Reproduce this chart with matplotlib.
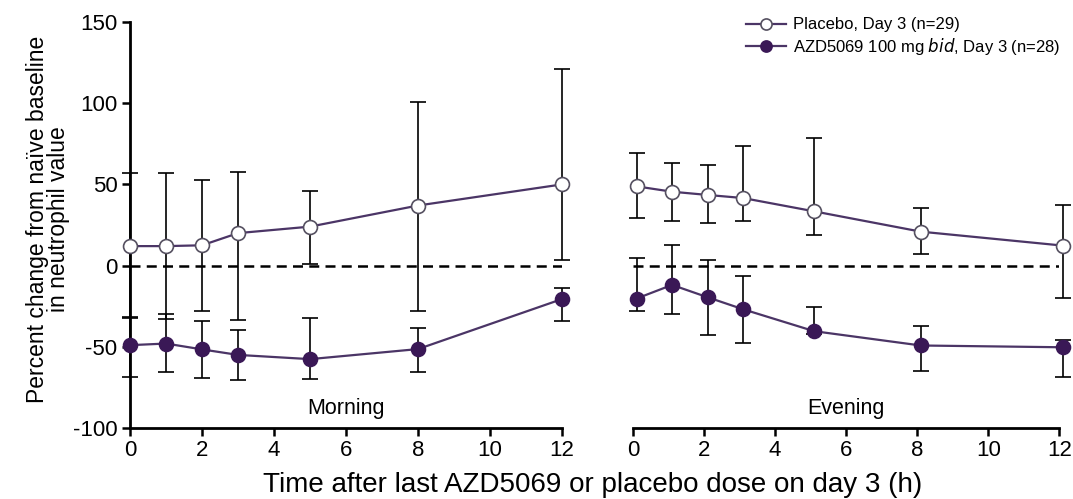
import numpy as np
import matplotlib
matplotlib.use("Agg")
import matplotlib.pyplot as plt

plt.rcParams['font.family'] = ['Liberation Sans', 'DejaVu Sans']
plt.rcParams['axes.unicode_minus'] = False

# hours after dose (evening samples drawn slightly right of the nominal ticks)
morning_hours = [0, 1, 2, 3, 5, 8, 12]
evening_hours = [0.1, 1.1, 2.1, 3.1, 5.1, 8.1, 12.1]

# placebo, day 3 (n=29): mean, lower and upper whiskers
plc_am = [12, 12, 12.5, 20, 24, 37, 50]
plc_am_lo = [-32, -33, -28, -33.7, 1, -28, 3.5]
plc_am_hi = [57, 57, 53, 57.8, 46, 101, 121]
plc_pm = [48.8, 45.5, 43.5, 41.6, 33.4, 20.9, 12.3]
plc_pm_lo = [29.3, 27.7, 26, 27.3, 19, 7.2, -20.1]
plc_pm_hi = [69.3, 63.2, 62.2, 73.8, 78.6, 35.5, 37.5]

# AZD5069 100 mg bid, day 3 (n=28)
azd_am = [-49, -48, -51.6, -55, -57.6, -51.4, -20.6]
azd_am_lo = [-68.4, -65.3, -69.4, -70.4, -69.8, -65.3, -34.3]
azd_am_hi = [-31.6, -29.6, -34, -39.4, -32, -38.2, -13.9]
azd_pm = [-20.3, -11.9, -19.5, -26.9, -40.4, -49.2, -50.3]
azd_pm_lo = [-28.1, -29.7, -42.5, -47.6, -42, -64.6, -68.7]
azd_pm_hi = [4.5, 12.5, 3.5, -6.2, -25.6, -36.9, -45.7]

line_col = '#4b3566'
azd_col = '#3a1856'

fig = plt.figure(figsize=(10.73, 4.99), dpi=100)
ax_am = fig.add_axes([0.1212, 0.1423, 0.4026, 0.8136])
ax_pm = fig.add_axes([0.5899, 0.1423, 0.3975, 0.8136])


def draw(ax, x, mean, lo, hi, filled, label):
    mean = np.array(mean)
    err = [mean - np.array(lo), np.array(hi) - mean]
    ax.errorbar(x, mean, yerr=err, fmt='none', ecolor='black', elinewidth=1.2,
                capsize=6, capthick=1.2, clip_on=False, zorder=2)
    ax.plot(x, mean, color=line_col, lw=1.6, marker='o', ms=10,
            mfc=azd_col if filled else 'white',
            mec=azd_col if filled else '#555060', mew=1.2,
            clip_on=False, zorder=3, label=label)


for ax, hours, p, plo, phi, a, alo, ahi, name in [
        (ax_am, morning_hours, plc_am, plc_am_lo, plc_am_hi,
         azd_am, azd_am_lo, azd_am_hi, 'Morning'),
        (ax_pm, evening_hours, plc_pm, plc_pm_lo, plc_pm_hi,
         azd_pm, azd_pm_lo, azd_pm_hi, 'Evening')]:
    ax.axhline(0, color='black', lw=1.8, ls=(0, (4, 2.5)), zorder=1)
    draw(ax, hours, p, plo, phi, False, 'Placebo, Day 3 (n=29)')
    draw(ax, hours, a, alo, ahi, True, r'AZD5069 100 mg $\it{bid}$, Day 3 (n=28)')
    ax.set_xlim(0, 12)
    ax.set_ylim(-100, 150)
    ax.set_xticks(range(0, 13, 2))
    ax.tick_params(axis='both', direction='out', length=6, width=1.8,
                   labelsize=16, colors='black', pad=3)
    for s in ['top', 'right']:
        ax.spines[s].set_visible(False)
    ax.spines['bottom'].set_linewidth(2)
    ax.spines['left'].set_linewidth(2)
    ax.text(6, -88, name, ha='center', va='center', fontsize=15.5)

ax_am.set_yticks([-100, -50, 0, 50, 100, 150])
ax_pm.spines['left'].set_visible(False)
ax_pm.set_yticks([])

fig.text(0.045, 0.56, 'Percent change from naïve baseline\nin neutrophil value',
         rotation=90, ha='center', va='center', fontsize=16.5, linespacing=0.9)
fig.text(0.552, 0.028, 'Time after last AZD5069 or placebo dose on day 3 (h)',
         ha='center', va='center', fontsize=20)

handles, labels = ax_am.get_legend_handles_labels()
fig.legend(handles, labels, loc='upper right', bbox_to_anchor=(1.002, 0.995),
           frameon=False, fontsize=12, handlelength=2.4, handletextpad=0.4,
           labelspacing=0.2, markerscale=0.8)

fig.savefig('out.png', dpi=100)
